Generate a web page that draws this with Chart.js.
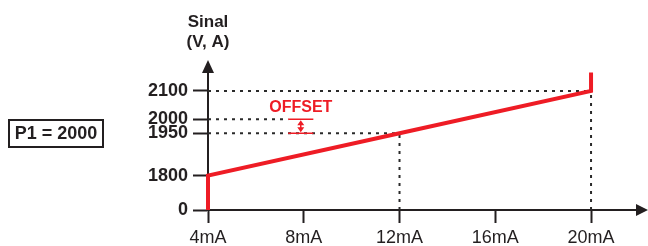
<!DOCTYPE html>
<html>
<head>
<meta charset="utf-8">
<script src="https://cdn.jsdelivr.net/npm/chart.js@4/dist/chart.umd.min.js"></script>
<style>
  html, body { margin: 0; padding: 0; background: #fff; }
  #wrap { width: 648px; height: 246px; position: relative; }
</style>
</head>
<body>
<div id="wrap"><canvas id="chart"></canvas></div>
<script>
// Data
const currentTicks = [4, 8, 12, 16, 20];          // mA
const signalTicks = [0, 1800, 1950, 2000, 2100];  // V, A
const curveCurrent = [4, 4, 12, 20, 20];
const curveSignal = [0, 1800, 1950, 2100, 2165];
const setpointP1 = 2000;
const offsetLow = 1950;

// dotted guides: horizontal (level -> end current), vertical (current -> level)
const guideLevels = [2100, 1950, 2000];
const guideEnds = [20, 12, 7.35];
const dropCurrents = [12, 20];
const dropLevels = [1950, 2100];

const INK = '#231f20';
const RED = '#ee1c25';
const FONT = "'Liberation Sans', Arial, sans-serif";
const OFFSET_MARK = { from: 7.35, to: 8.4 }; // mA span of the offset marker

// linear scale with a break: everything below breakAt is squeezed into the gap
class BrokenLinearScale extends Chart.LinearScale {
  getPixelForValue(value) {
    const brk = this.options.breakAt;
    if (value !== null && brk != null && value < brk) {
      value = this.min + (value / brk) * (brk - this.min);
    }
    return super.getPixelForValue(value);
  }
}
BrokenLinearScale.id = 'brokenLinear';
BrokenLinearScale.defaults = Chart.LinearScale.defaults;
Chart.register(BrokenLinearScale);

const dotted = (points) => ({
  data: points,
  borderColor: '#2a2a2a',
  borderWidth: 2,
  borderDash: [3, 5],
  pointRadius: 0,
  fill: false,
  order: 2
});

const datasets = [];
guideLevels.forEach((lvl, i) => {
  datasets.push(dotted([{ x: currentTicks[0], y: lvl }, { x: guideEnds[i], y: lvl }]));
});
dropCurrents.forEach((c, i) => {
  datasets.push(dotted([{ x: c, y: signalTicks[0] }, { x: c, y: dropLevels[i] }]));
});
datasets.push({
  data: curveCurrent.map((x, i) => ({ x: x, y: curveSignal[i] })),
  borderColor: RED,
  borderWidth: 4,
  borderJoinStyle: 'miter',
  pointRadius: 0,
  fill: false,
  clip: false,
  order: 1
});

// axes arrows, title, P1 box, offset marker
const decorations = {
  id: 'decorations',
  afterDraw(chart) {
    const ctx = chart.ctx;
    const { left, right, top, bottom } = chart.chartArea;
    const x = chart.scales.x, y = chart.scales.y;
    ctx.save();

    // arrows
    ctx.fillStyle = INK;
    ctx.beginPath();
    ctx.moveTo(left, top - 12);
    ctx.lineTo(left - 6, top + 1);
    ctx.lineTo(left + 6, top + 1);
    ctx.closePath();
    ctx.fill();
    ctx.beginPath();
    ctx.moveTo(right + 11, bottom);
    ctx.lineTo(right - 1, bottom - 6);
    ctx.lineTo(right - 1, bottom + 6);
    ctx.closePath();
    ctx.fill();

    // axis title
    ctx.font = 'bold 17px ' + FONT;
    ctx.textAlign = 'center';
    ctx.textBaseline = 'middle';
    ctx.fillText('Sinal', left, 22);
    ctx.fillText('(V, A)', left, 42);

    // P1 box
    ctx.lineWidth = 2;
    ctx.strokeStyle = INK;
    ctx.strokeRect(9, 120, 94, 27);
    ctx.font = 'bold 18px ' + FONT;
    ctx.fillText('P1 = ' + setpointP1, 56, 134.5);

    // offset marker
    const x0 = x.getPixelForValue(OFFSET_MARK.from);
    const x1 = x.getPixelForValue(OFFSET_MARK.to);
    const xm = (x0 + x1) / 2;
    const yHi = y.getPixelForValue(setpointP1);
    const yLo = y.getPixelForValue(offsetLow);
    ctx.strokeStyle = RED;
    ctx.fillStyle = RED;
    ctx.lineWidth = 1.5;
    ctx.beginPath();
    ctx.moveTo(x0, yHi); ctx.lineTo(x1, yHi);
    ctx.moveTo(x0, yLo); ctx.lineTo(x1, yLo);
    ctx.moveTo(xm, yHi + 3); ctx.lineTo(xm, yLo - 3);
    ctx.stroke();
    ctx.beginPath();
    ctx.moveTo(xm, yHi + 1); ctx.lineTo(xm - 3.5, yHi + 6); ctx.lineTo(xm + 3.5, yHi + 6); ctx.closePath();
    ctx.moveTo(xm, yLo - 1); ctx.lineTo(xm - 3.5, yLo - 6); ctx.lineTo(xm + 3.5, yLo - 6); ctx.closePath();
    ctx.fill();

    ctx.font = 'bold 16px ' + FONT;
    ctx.fillText('OFFSET', xm, yHi - 12);
    ctx.restore();
  }
};

new Chart(document.getElementById('chart'), {
  type: 'line',
  data: { datasets: datasets },
  plugins: [decorations],
  options: {
    responsive: true,
    maintainAspectRatio: false,
    animation: false,
    layout: { padding: { left: 0, top: 72, right: 11, bottom: 0 } },
    plugins: {
      legend: { display: false },
      tooltip: { enabled: false },
      title: { display: false }
    },
    scales: {
      x: {
        type: 'linear',
        min: 4,
        max: 21.92,
        afterBuildTicks: axis => { axis.ticks = currentTicks.map(v => ({ value: v })); },
        afterFit: axis => { axis.height = 36; },
        border: { display: true, color: INK, width: 2 },
        grid: { drawOnChartArea: false, drawTicks: true, tickLength: 13, tickWidth: 2, tickColor: INK },
        ticks: {
          autoSkip: false,
          maxRotation: 0,
          padding: 4,
          color: INK,
          font: { family: FONT, size: 18 },
          callback: v => v + 'mA'
        }
      },
      y: {
        type: 'brokenLinear',
        breakAt: 1800,
        min: 1678,
        max: 2167,
        afterBuildTicks: axis => { axis.ticks = signalTicks.map(v => ({ value: v })); },
        afterFit: axis => { axis.width = 208; },
        border: { display: true, color: INK, width: 2 },
        grid: { drawOnChartArea: false, drawTicks: true, tickLength: 15, tickWidth: 2, tickColor: INK },
        ticks: {
          autoSkip: false,
          padding: 5,
          color: INK,
          font: { family: FONT, size: 18, weight: 'bold' },
          callback: v => String(v)
        }
      }
    }
  }
});
</script>
</body>
</html>
